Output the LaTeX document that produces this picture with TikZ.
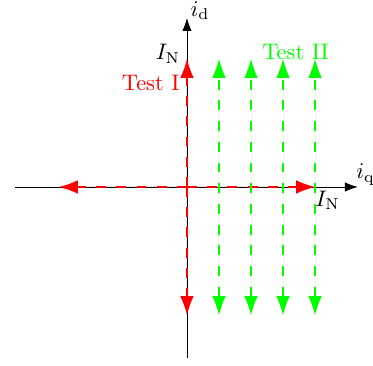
\documentclass[tikz,border=0pt]{standalone}
\usetikzlibrary{arrows.meta}
\definecolor{testred}{RGB}{255,0,0}
\definecolor{testgreen}{RGB}{0,255,0}
\tikzset{
    axis/.style={-{Latex[length=5.8pt,width=4.2pt]}},
    bigtip/.style={-{Latex[length=8.4pt,width=6pt]}},
    testone/.style={bigtip, draw=testred, fill=testred, line width=0.5pt, dash pattern=on 4.4pt off 4.6pt},
    testtwo/.style={{Latex[length=8.4pt,width=6pt]}-{Latex[length=8.4pt,width=6pt]}, draw=testgreen, fill=testgreen, line width=0.5pt, dash pattern=on 4.4pt off 4.8pt}
}
\begin{document}
\begin{tikzpicture}[x=0.5cm, y=0.5cm]
    \useasboundingbox (-5.84,-5.59) rectangle (5.81,5.84);
    % axes
    \coordinate (O) at (0,0);
    \coordinate (xl) at (-5.375,0);
    \coordinate (xr) at (5.34,0);
    \coordinate (yb) at (0,-5.34);
    \coordinate (yt) at (0,5.28);
    \draw[axis] (xl) -- (xr);
    \draw[axis] (yb) -- (yt);
    \node[anchor=base west, inner sep=0pt] (iq) at (5.28,0.25) {$i_\mathrm{q}$};
    \node[anchor=base west, inner sep=0pt] (id) at (0.1,5.34) {$i_\mathrm{d}$};

    % Test I
    \coordinate (up) at (0,4);
    \coordinate (down) at (0,-4);
    \coordinate (left) at (-4,0);
    \coordinate (right) at (4,0);
    \foreach \e in {up, down, left, right}
        \draw[testone] (O) -- (\e);
    \node[anchor=base east, inner sep=0pt] (INd) at (-0.2,3.97) {$I_\mathrm{N}$};
    \node[anchor=base west, inner sep=0pt] (INq) at (4.0,-0.6) {$I_\mathrm{N}$};
    \node[anchor=base east, text=testred, inner sep=0pt] (testI) at (-0.22,3.0) {Test I};

    % Test II
    \foreach \k in {1,2,3,4} {
        \coordinate (g\k t) at (\k,4);
        \coordinate (g\k b) at (\k,-4);
        \draw[testtwo] (g\k b) -- (g\k t);
    }
    \node[anchor=base, text=testgreen, inner sep=0pt] (testII) at (3.39,3.97) {Test II};
\end{tikzpicture}
\end{document}
